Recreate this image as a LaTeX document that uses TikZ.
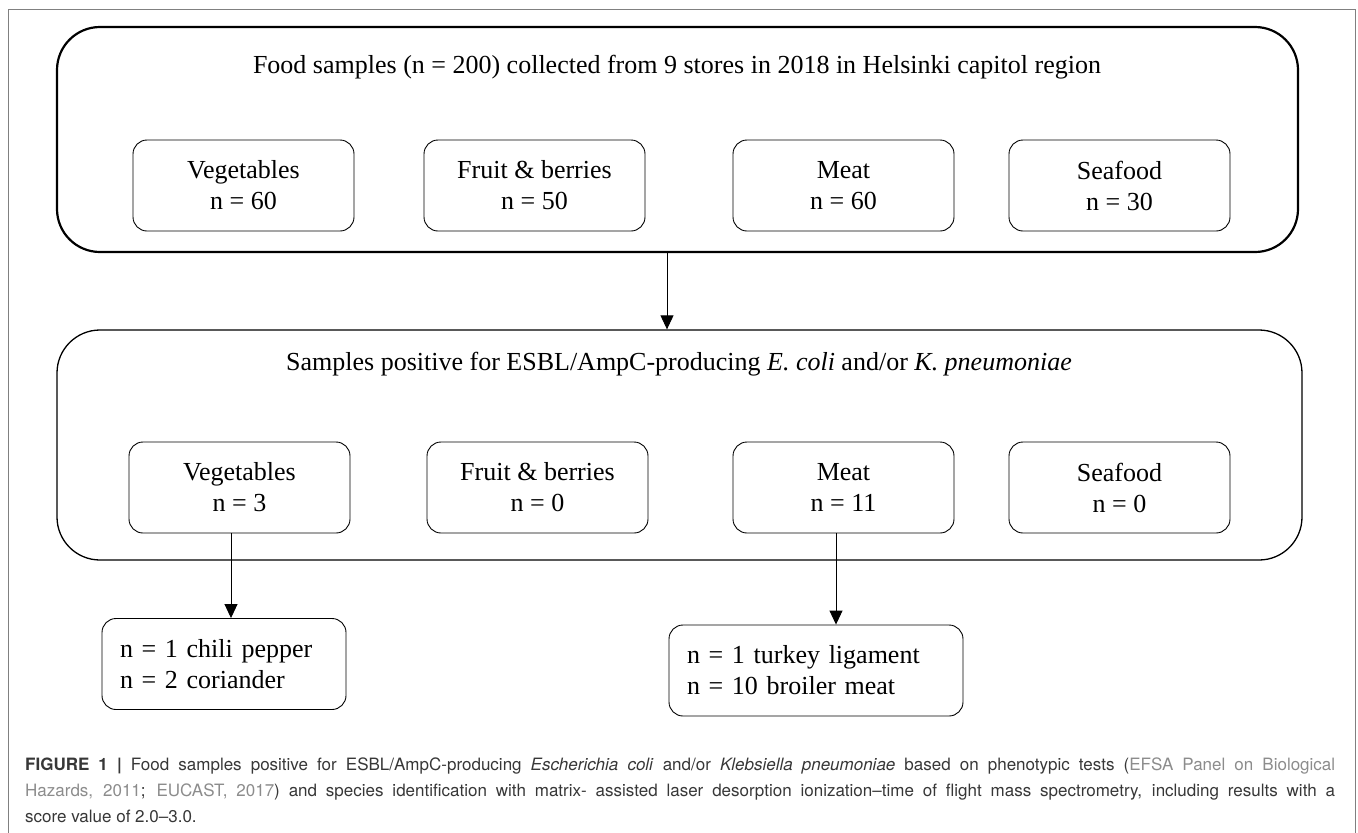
\documentclass[tikz,border=0pt]{standalone}
\usepackage{fontspec}
\setmainfont{Liberation Serif}
\newfontfamily\capfont{TeX Gyre Heros}
\usetikzlibrary{arrows.meta}
\definecolor{framegray}{RGB}{128,128,128}
\definecolor{capgray}{RGB}{55,55,55}
\definecolor{citegray}{RGB}{140,140,140}

\begin{document}
\begin{tikzpicture}[x=1pt, y=-1pt,
    font=\fontsize{26}{31}\selectfont,
    bigbox/.style={draw, rounded corners=43pt, inner sep=0pt},
    catbox/.style={draw, line width=0.9pt, rounded corners=14pt, minimum width=221pt, minimum height=91pt, align=center, inner sep=0pt},
    listbox/.style={draw, line width=0.9pt, rounded corners=14pt, minimum height=91pt, align=left, inner xsep=18pt, inner ysep=0pt},
    arr/.style={line width=0.9pt, -{Triangle[length=14pt, width=13pt]}}]
    \useasboundingbox (0,0) rectangle (1358,833);

    % Draw the outer frame
    \draw[framegray, line width=1pt] (8,833) -- (8,9) -- (1355,9) -- (1355,833);

    % Collected samples
    \node[bigbox, line width=2.2pt, minimum width=1241pt, minimum height=225pt] (food) at (677.5,139.5) {};
    \node[anchor=base] (foodtitle) at (677,73) {Food samples (n = 200) collected from 9 stores in 2018 in Helsinki capitol region};
    \node[catbox] (veg) at (243.5,185.5) {Vegetables\\n = 60};
    \node[catbox] (fruit) at (534.5,185.5) {Fruit \& berries\\n = 50};
    \node[catbox] (meat) at (843.5,185.5) {Meat\\n = 60};
    \node[catbox] (sea) at (1119.5,185.5) {Seafood\\n = 30};

    % Positive samples
    \node[bigbox, line width=1.3pt, minimum width=1245pt, minimum height=230pt] (pos) at (679.5,445) {};
    \node[anchor=base] (postitle) at (679,370) {Samples positive for ESBL/AmpC-producing \textit{E. coli} and/or \textit{K. pneumoniae}};
    \node[catbox] (vegpos) at (239.5,487.5) {Vegetables\\n = 3};
    \node[catbox] (fruitpos) at (537.5,487.5) {Fruit \& berries\\n = 0};
    \node[catbox] (meatpos) at (843.5,487.5) {Meat\\n = 11};
    \node[catbox] (seapos) at (1119.5,487.5) {Seafood\\n = 0};

    % Species found
    \node[listbox, text width=208pt] (chili) at (224,664) {n = 1 chili pepper\\n = 2 coriander};
    \node[listbox, text width=258pt] (turkey) at (816,670.5) {n = 1 turkey ligament\\n = 10 broiler meat};

    % Add arrows
    \draw[arr] ([xshift=-10.5pt]food.south) -- ([xshift=-10.5pt]food.south |- pos.north);
    \draw[arr] ([xshift=-8.5pt]vegpos.south) -- ([xshift=-8.5pt]vegpos.south |- chili.north);
    \draw[arr] ([xshift=-7.5pt]meatpos.south) -- ([xshift=-7.5pt]meatpos.south |- turkey.north);

    % Caption
    \node[anchor=north west, inner sep=0pt, text width=1310pt, align=justify, text=capgray,
        font=\capfont\fontsize{17}{26}\selectfont] (caption) at (25,758)
        {\textbf{FIGURE 1 |} Food samples positive for ESBL/AmpC-producing \textit{Escherichia coli} and/or \textit{Klebsiella pneumoniae} based on phenotypic tests ({\color{citegray}EFSA Panel on Biological\linebreak Hazards, 2011}; {\color{citegray}EUCAST, 2017}) and species identification with matrix- assisted laser desorption ionization–time of flight mass spectrometry, including results with a\linebreak score value of 2.0–3.0.};
\end{tikzpicture}
\end{document}
